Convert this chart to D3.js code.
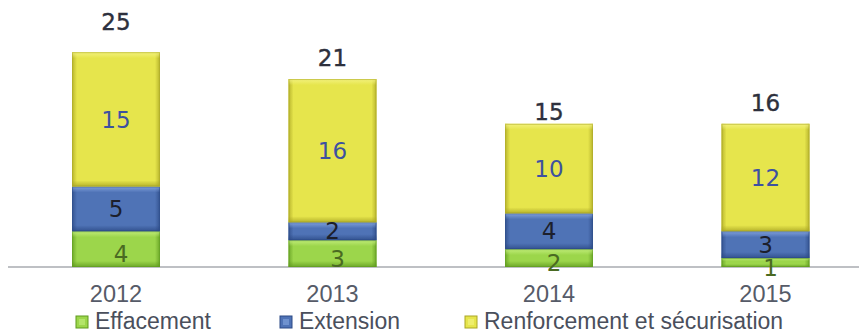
<!DOCTYPE html>
<html>
<head>
<meta charset="utf-8">
<script src="https://cdn.jsdelivr.net/npm/d3@7"></script>
<style>
  html, body { margin: 0; padding: 0; background: #fff; }
  svg { display: block; }
</style>
</head>
<body>
<svg id="chart" width="859" height="334"></svg>
<script>
// Stacked bars per year
const years = ["2012", "2013", "2014", "2015"];
const effacement = [4, 3, 2, 1];
const extension = [5, 2, 4, 3];
const renforcement = [15, 16, 10, 12];
const totals = [25, 21, 15, 16];
const seriesNames = ["Effacement", "Extension", "Renforcement et sécurisation"];

const palette = {
  "Effacement":   { fill: "#9cd64b", light: "#c4ee7e", dark: "#5f9a1f", label: "#4a6a22" },
  "Extension":    { fill: "#4f73b6", light: "#86a6e0", dark: "#2c4a86", label: "#1c1f2c" },
  "Renforcement et sécurisation": { fill: "#e6e54c", light: "#f4f382", dark: "#aaa624", label: "#3d51a0" }
};

const svg = d3.select("#chart");
const baseY = 267;

const x = d3.scaleBand()
  .domain(years)
  .range([7.75, 873.75])
  .paddingInner(0.594)
  .paddingOuter(0.297);

const y = d3.scaleLinear().domain([0, 25]).range([baseY, 43.25]);

// Gradients for the bevelled edges
const defs = svg.append("defs");
function grad(id, x1, y1, x2, y2, color, o1, o2) {
  const g = defs.append("linearGradient").attr("id", id)
    .attr("x1", x1).attr("y1", y1).attr("x2", x2).attr("y2", y2);
  g.append("stop").attr("offset", "0%").attr("stop-color", color).attr("stop-opacity", o1);
  g.append("stop").attr("offset", "100%").attr("stop-color", color).attr("stop-opacity", o2);
}
seriesNames.forEach((name, i) => {
  const p = palette[name];
  grad("top" + i, 0, 0, 0, 1, p.light, 0.9, 0);
  grad("bot" + i, 0, 1, 0, 0, p.dark, 0.8, 0);
  grad("lft" + i, 0, 0, 1, 0, p.dark, 0.75, 0);
  grad("rgt" + i, 1, 0, 0, 0, p.dark, 0.75, 0);
});

// Stack data
const rows = years.map((yr, i) => ({
  year: yr,
  "Effacement": effacement[i],
  "Extension": extension[i],
  "Renforcement et sécurisation": renforcement[i]
}));
const stacked = d3.stack().keys(seriesNames)(rows);

function bevelRect(g, x0, y0, w, h, idx, fill) {
  const b = Math.min(6, h / 3);
  const dark = palette[seriesNames[idx]].dark;
  g.append("rect").attr("x", x0).attr("y", y0).attr("width", w).attr("height", h)
    .attr("fill", fill);
  g.append("rect").attr("x", x0).attr("y", y0).attr("width", 5).attr("height", h)
    .attr("fill", `url(#lft${idx})`);
  g.append("rect").attr("x", x0 + w - 5).attr("y", y0).attr("width", 5).attr("height", h)
    .attr("fill", `url(#rgt${idx})`);
  g.append("rect").attr("x", x0).attr("y", y0).attr("width", w).attr("height", b)
    .attr("fill", `url(#top${idx})`);
  g.append("rect").attr("x", x0).attr("y", y0 + h - b).attr("width", w).attr("height", b)
    .attr("fill", `url(#bot${idx})`);
  g.append("rect").attr("x", x0 + 0.5).attr("y", y0 + 0.5).attr("width", w - 1).attr("height", h - 1)
    .attr("fill", "none").attr("stroke", dark).attr("stroke-opacity", 0.55);
}

// Axis baseline
svg.append("line")
  .attr("x1", 8).attr("x2", 859).attr("y1", baseY).attr("y2", baseY)
  .attr("stroke", "#a9abb0").attr("stroke-width", 1.5);

const barsG = svg.append("g");
stacked.forEach((layer, li) => {
  layer.forEach((d, i) => {
    const g = barsG.append("g");
    const x0 = x(years[i]);
    const top = y(d[1]);
    const h = y(d[0]) - y(d[1]);
    bevelRect(g, x0, top, x.bandwidth(), h, li, palette[layer.key].fill);
  });
});

// Value labels inside segments
const labelFont = "'DejaVu Sans', Verdana, sans-serif";
stacked.forEach((layer, li) => {
  const p = palette[layer.key];
  layer.forEach((d, i) => {
    const cx = x(years[i]) + x.bandwidth() / 2;
    const cy = (y(d[0]) + y(d[1])) / 2;
    const isGreen = li === 0;
    svg.append("text")
      .attr("x", cx + (isGreen ? 5 : 0))
      .attr("y", cy + (isGreen ? 5 : 0))
      .attr("dy", "0.36em")
      .attr("text-anchor", "middle")
      .attr("font-family", labelFont)
      .attr("font-size", 23)
      .attr("fill", p.label)
      .text(d[1] - d[0]);
  });
});

// Totals above bars
years.forEach((yr, i) => {
  svg.append("text")
    .attr("x", x(yr) + x.bandwidth() / 2)
    .attr("y", y(totals[i]) - 13)
    .attr("text-anchor", "middle")
    .attr("font-family", labelFont)
    .attr("font-size", 23)
    .attr("fill", "#2d303d")
    .attr("stroke", "#2d303d").attr("stroke-width", 0.4)
    .text(totals[i]);
});

// Category axis labels
const xAxis = d3.axisBottom(x).tickSize(0).tickPadding(0);
const axG = svg.append("g").attr("transform", `translate(0,${baseY})`).call(xAxis);
axG.select(".domain").remove();
axG.selectAll("text")
  .attr("y", 35)
  .attr("dy", 0)
  .attr("font-family", "'Liberation Sans', Arial, sans-serif")
  .attr("font-size", 23.5)
  .attr("fill", "#565b68");

// Legend
const legendX = [76, 280, 465];
const legG = svg.append("g");
seriesNames.forEach((name, i) => {
  const g = legG.append("g").attr("transform", `translate(${legendX[i]},316)`);
  const p = palette[name];
  g.append("rect").attr("width", 12).attr("height", 12).attr("fill", p.fill)
    .attr("stroke", p.dark).attr("stroke-width", 1);
  g.append("rect").attr("x", 3).attr("y", 3).attr("width", 6).attr("height", 6)
    .attr("fill", p.light).attr("opacity", 0.6);
  g.append("text")
    .attr("x", 19).attr("y", 13)
    .attr("font-family", "'Liberation Sans', Arial, sans-serif")
    .attr("font-size", 23)
    .attr("fill", "#4a4f5c")
    .text(name);
});
</script>
</body>
</html>
